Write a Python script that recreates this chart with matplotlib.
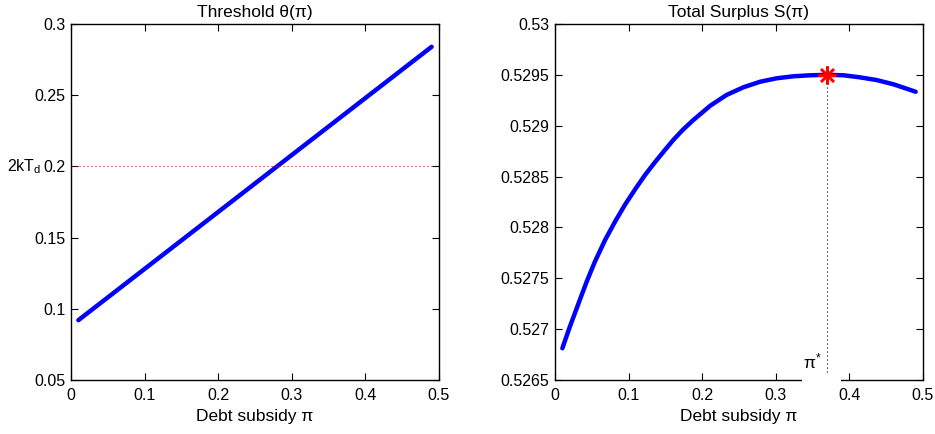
import numpy as np
import matplotlib
matplotlib.use('Agg')
import matplotlib.pyplot as plt
from matplotlib.patches import Rectangle

plt.rcParams['font.family'] = ['Liberation Sans', 'DejaVu Sans']
plt.rcParams['mathtext.fontset'] = 'custom'
plt.rcParams['mathtext.rm'] = 'Liberation Sans'
plt.rcParams['mathtext.it'] = 'Liberation Sans'

# threshold theta(pi), left panel
pi_theta = [0.01, 0.1, 0.2, 0.3, 0.4, 0.49]
theta = [0.092, 0.128, 0.168, 0.208, 0.248, 0.284]
theta_ref = 0.2  # 2kT_d

# total surplus S(pi), right panel
pi_s = [0.01, 0.02, 0.032, 0.043, 0.054, 0.068, 0.082, 0.095, 0.109, 0.122,
        0.136, 0.149, 0.161, 0.174, 0.188, 0.211, 0.233, 0.256, 0.279, 0.301,
        0.324, 0.347, 0.37, 0.392, 0.414, 0.437, 0.46, 0.49]
surplus = [0.526812, 0.52702, 0.527254, 0.527466, 0.52766, 0.527876, 0.528062,
           0.528222, 0.528376, 0.528512, 0.528643, 0.528758, 0.528862, 0.528962,
           0.529056, 0.529197, 0.529302, 0.529378, 0.529433, 0.529466, 0.529486,
           0.529496, 0.5295, 0.529496, 0.529476, 0.529449, 0.529407, 0.529334]
pi_star = 0.37
s_star = 0.5295

xticks = [0, 0.1, 0.2, 0.3, 0.4, 0.5]
xtick_labels = ['0', '0.1', '0.2', '0.3', '0.4', '0.5']
yticks_l = [0.05, 0.1, 0.15, 0.2, 0.25, 0.3]
ytick_labels_l = ['0.05', '0.1', '0.15', '0.2', '0.25', '0.3']
yticks_r = [0.5265, 0.527, 0.5275, 0.528, 0.5285, 0.529, 0.5295, 0.53]
ytick_labels_r = ['0.5265', '0.527', '0.5275', '0.528', '0.5285', '0.529', '0.5295', '0.53']

fig = plt.figure(figsize=(9.35, 4.34), dpi=100)
ax1 = fig.add_axes([71/935, 1-380/434, 368/935, 356/434])
ax2 = fig.add_axes([555/935, 1-380/434, 368/935, 356/434])

for ax in (ax1, ax2):
    ax.tick_params(direction='in', top=True, right=True, length=5, width=0.8,
                   labelsize=11.5, pad=4)
    ax.tick_params(axis='x', pad=6)
    for s in ax.spines.values():
        s.set_linewidth(1.0)
    ax.set_xlim(0, 0.5)
    ax.set_xticks(xticks)
    ax.set_xticklabels(xtick_labels)
    ax.set_xlabel('Debt subsidy π', fontsize=12.5, labelpad=4)

# left panel
ax1.plot(pi_theta, theta, color='#0000ff', lw=3.2, solid_capstyle='round')
ax1.plot([0, 0.495], [theta_ref, theta_ref], color='red', lw=0.8, dashes=(1, 2.6))
ax1.set_ylim(0.05, 0.3)
ax1.set_yticks(yticks_l)
ax1.set_yticklabels(ytick_labels_l)
ax1.set_title('Threshold θ(π)', fontsize=12.5, pad=5)
ax1.text(-0.04, theta_ref, r'2kT$_{\mathrm{d}}$', ha='right', va='center',
         fontsize=11.5)

# right panel
ax2.plot(pi_s, surplus, color='#0000ff', lw=3.2, solid_capstyle='round',
         solid_joinstyle='round')
ax2.set_ylim(0.5265, 0.53)
ax2.set_yticks(yticks_r)
ax2.set_yticklabels(ytick_labels_r)
ax2.set_title('Total Surplus S(π)', fontsize=12.5, pad=5)
ax2.plot([pi_star, pi_star], [s_star, 0.52655], color='black', lw=0.8,
         dashes=(1, 2.6), zorder=4)
ax2.plot(pi_star, s_star, marker=(8, 2, 0), color='red', ms=13, mew=1.8, zorder=5)
ax2.add_patch(Rectangle((pi_star - 0.034, 0.52642), 0.053, 0.00012,
                        facecolor='white', edgecolor='none', clip_on=False, zorder=3))
ax2.text(pi_star - 0.007, 0.52668, r'$\pi^{*}$', ha='right', va='center',
         fontsize=12.5, zorder=6)

fig.savefig('out.png', dpi=100)
